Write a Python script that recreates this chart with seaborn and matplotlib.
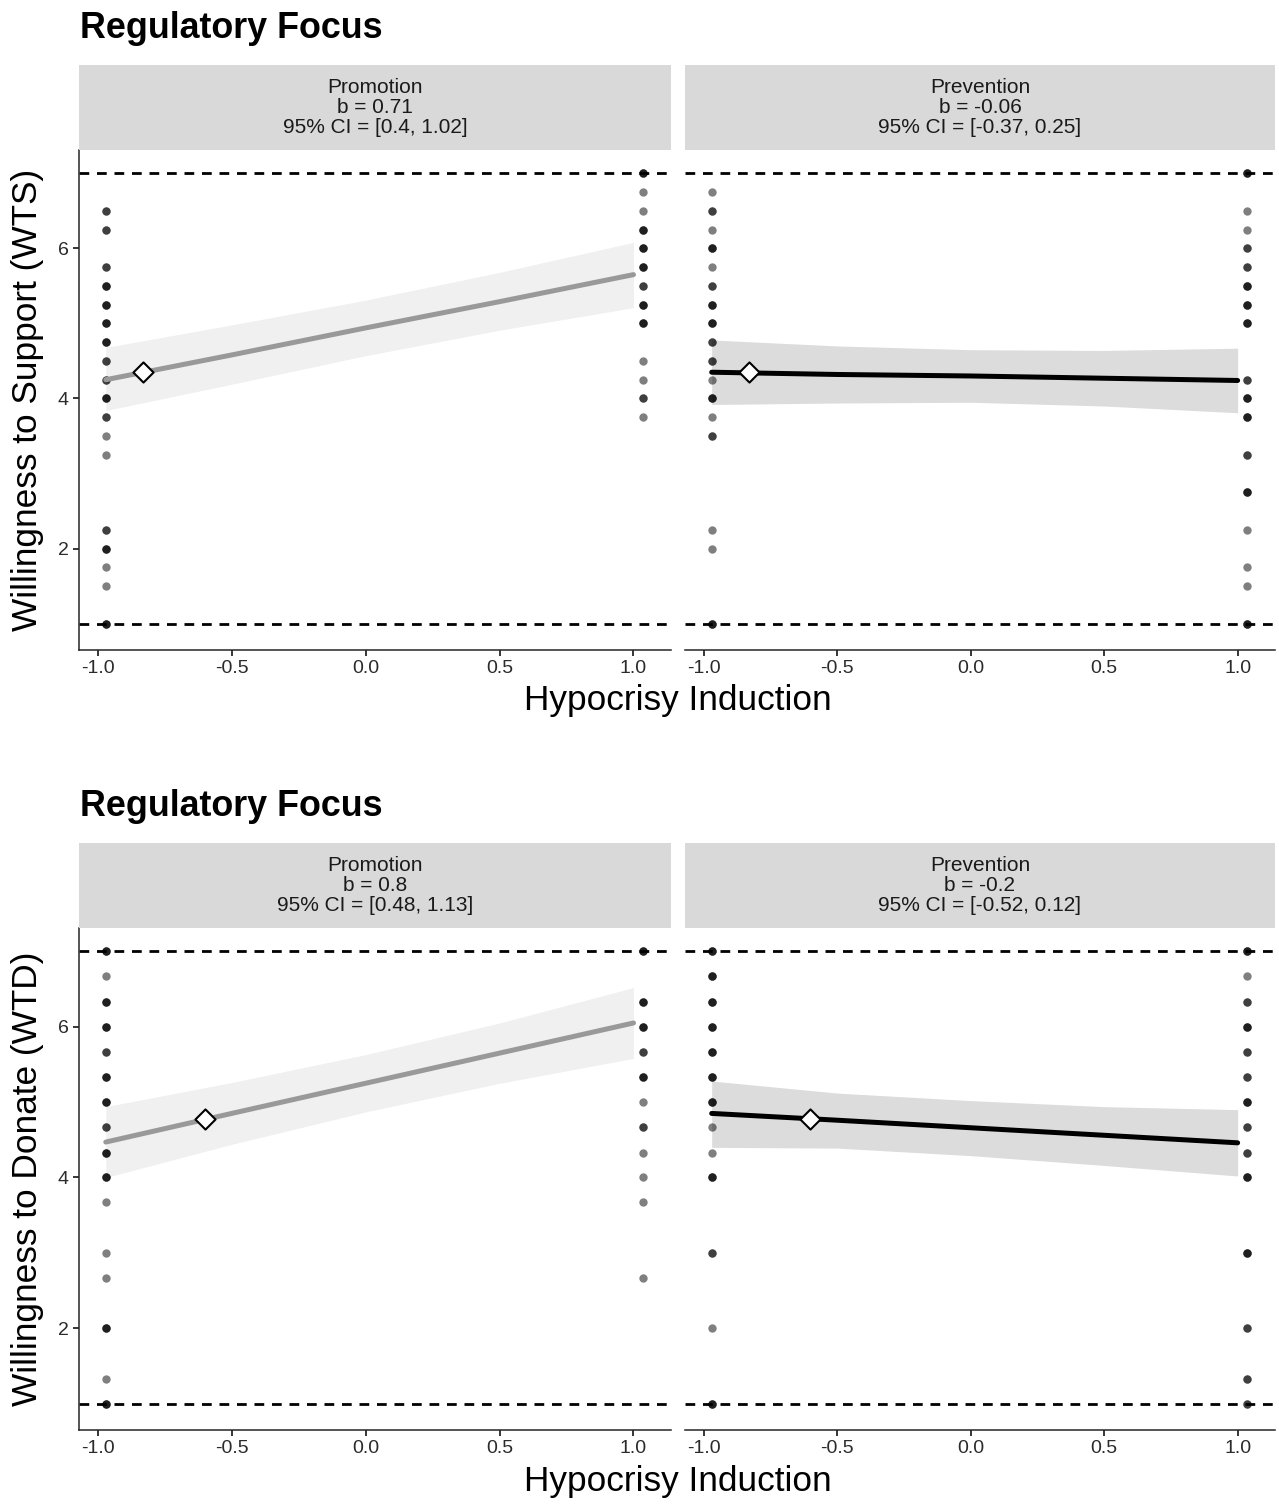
import numpy as np
import pandas as pd
import matplotlib.pyplot as plt
import seaborn as sns

# x positions of the two hypocrisy conditions (as plotted)
HYPO_LEVELS = [-0.97, 1.035]
FIT_X = [-0.97, -0.5, 0.0, 0.5, 1.0]
X_TICKS = [-1.0, -0.5, 0.0, 0.5, 1.0]
Y_TICKS = [2, 4, 6]
SCALE_BOUNDS = [1, 7]

# ---- WTS, Promotion ----
wts_prom_lo_y = [6.5, 6.25, 5.75, 5.5, 5.25, 5.0, 4.75, 4.5, 4.25, 4.0, 3.75, 3.5, 3.25, 2.25, 2.0, 1.75, 1.5, 1.0]
wts_prom_lo_n = [2, 2, 2, 3, 3, 3, 3, 2, 2, 3, 2, 1, 1, 2, 3, 1, 1, 3]
wts_prom_hi_y = [7.0, 6.75, 6.5, 6.25, 6.0, 5.75, 5.5, 5.25, 5.0, 4.5, 4.25, 4.0, 3.75]
wts_prom_hi_n = [3, 1, 1, 3, 3, 3, 2, 3, 3, 1, 1, 2, 1]
wts_prom_fit = [4.25, 4.58, 4.94, 5.29, 5.65]
wts_prom_upper = [4.68, 4.98, 5.31, 5.68, 6.08]
wts_prom_lower = [3.84, 4.19, 4.57, 4.91, 5.21]
wts_prom_mean = (-0.83, 4.35)

# ---- WTS, Prevention ----
wts_prev_lo_y = [6.75, 6.5, 6.25, 6.0, 5.75, 5.5, 5.25, 5.0, 4.75, 4.5, 4.25, 4.0, 3.75, 3.5, 2.25, 2.0, 1.0]
wts_prev_lo_n = [1, 2, 1, 3, 1, 2, 3, 3, 2, 2, 1, 3, 1, 2, 1, 1, 3]
wts_prev_hi_y = [7.0, 6.5, 6.25, 6.0, 5.75, 5.5, 5.25, 5.0, 4.25, 4.0, 3.75, 3.25, 2.75, 2.25, 1.75, 1.5, 1.0]
wts_prev_hi_n = [3, 1, 1, 2, 2, 3, 3, 3, 2, 3, 3, 2, 3, 1, 1, 1, 3]
wts_prev_fit = [4.35, 4.32, 4.30, 4.27, 4.24]
wts_prev_upper = [4.78, 4.70, 4.65, 4.64, 4.67]
wts_prev_lower = [3.92, 3.94, 3.95, 3.90, 3.81]
wts_prev_mean = (-0.83, 4.35)

# ---- WTD, Promotion ----
wtd_prom_lo_y = [7.0, 6.67, 6.33, 6.0, 5.67, 5.33, 5.0, 4.67, 4.33, 4.0, 3.67, 3.0, 2.67, 2.0, 1.33, 1.0]
wtd_prom_lo_n = [3, 1, 3, 3, 2, 3, 3, 2, 3, 3, 1, 1, 1, 3, 1, 3]
wtd_prom_hi_y = [7.0, 6.33, 6.0, 5.67, 5.33, 5.0, 4.67, 4.33, 4.0, 3.67, 2.67]
wtd_prom_hi_n = [3, 3, 3, 2, 3, 1, 2, 1, 1, 1, 1]
wtd_prom_fit = [4.47, 4.85, 5.25, 5.65, 6.05]
wtd_prom_upper = [4.94, 5.26, 5.63, 6.05, 6.52]
wtd_prom_lower = [4.00, 4.44, 4.87, 5.25, 5.58]
wtd_prom_mean = (-0.60, 4.78)

# ---- WTD, Prevention ----
wtd_prev_lo_y = [7.0, 6.67, 6.33, 6.0, 5.67, 5.33, 5.0, 4.67, 4.33, 4.0, 3.0, 2.0, 1.0]
wtd_prev_lo_n = [3, 3, 3, 3, 3, 3, 3, 1, 1, 3, 2, 1, 3]
wtd_prev_hi_y = [7.0, 6.67, 6.33, 6.0, 5.67, 5.33, 5.0, 4.67, 4.33, 4.0, 3.0, 2.0, 1.33, 1.0]
wtd_prev_hi_n = [3, 1, 2, 3, 2, 2, 3, 2, 2, 3, 3, 2, 2, 2]
wtd_prev_fit = [4.85, 4.76, 4.66, 4.56, 4.46]
wtd_prev_upper = [5.28, 5.12, 5.02, 4.94, 4.90]
wtd_prev_lower = [4.40, 4.39, 4.29, 4.16, 4.02]
wtd_prev_mean = (-0.60, 4.78)

strip_labels = {
    "wts_prom": "Promotion\nb = 0.71\n95% CI = [0.4, 1.02]",
    "wts_prev": "Prevention\nb = -0.06\n95% CI = [-0.37, 0.25]",
    "wtd_prom": "Promotion\nb = 0.8\n95% CI = [0.48, 1.13]",
    "wtd_prev": "Prevention\nb = -0.2\n95% CI = [-0.52, 0.12]",
}

sns.set_theme(style="ticks")
plt.rcParams['font.family'] = ['Liberation Sans', 'DejaVu Sans']

TXT = '#1a1a1a'
STRIP_BG = '#d9d9d9'


def points_frame(lo_y, lo_n, hi_y, hi_n):
    rows = []
    for y, n in zip(lo_y, lo_n):
        rows += [(HYPO_LEVELS[0], y)] * n
    for y, n in zip(hi_y, hi_n):
        rows += [(HYPO_LEVELS[1], y)] * n
    return pd.DataFrame(rows, columns=['hypocrisy', 'score'])


def draw_panel(ax, pts, fit, upper, lower, mean_pt, line_col, band_col, first):
    ax.fill_between(FIT_X, lower, upper, color=band_col, lw=0, zorder=1)
    for b in SCALE_BOUNDS:
        ax.axhline(b, color='black', lw=2.0, ls=(0, (3.5, 2.8)), zorder=2)
    sns.scatterplot(data=pts, x='hypocrisy', y='score', ax=ax, color='black',
                    alpha=0.5, s=36, linewidth=0, zorder=3, legend=False)
    sns.lineplot(x=FIT_X, y=fit, ax=ax, color=line_col, lw=3.6, zorder=4)
    sns.scatterplot(x=[mean_pt[0]], y=[mean_pt[1]], ax=ax, marker='D', s=105,
                    color='white', edgecolor='black', linewidth=1.5, zorder=5)
    ax.set_xlim(-1.07, 1.14)
    ax.set_ylim(0.65, 7.31)
    ax.set_xticks(X_TICKS)
    ax.set_xticklabels([f"{t:.1f}" for t in X_TICKS])
    ax.set_xlabel('')
    ax.set_ylabel('')
    ax.tick_params(axis='both', labelsize=14, colors='black', labelcolor='#2b2b2b',
                   length=4.5, width=1.1, pad=3)
    for s in ['top', 'right']:
        ax.spines[s].set_visible(False)
    ax.spines['bottom'].set_linewidth(1.1)
    if first:
        ax.set_yticks(Y_TICKS)
        ax.spines['left'].set_linewidth(1.1)
    else:
        ax.set_yticks([])
        ax.spines['left'].set_visible(False)


def draw_strip(fig, rect, text):
    sax = fig.add_axes(rect)
    sax.set_facecolor(STRIP_BG)
    sax.set_xticks([])
    sax.set_yticks([])
    for s in sax.spines.values():
        s.set_visible(False)
    sax.text(0.5, 0.5, text, ha='center', va='center', fontsize=15,
             color=TXT, linespacing=1.08, transform=sax.transAxes)


W, H = 1279, 1504
fig = plt.figure(figsize=(W / 100, H / 100), dpi=100)

cols = [(79, 671), (685, 1275)]
blocks = [
    dict(top=150, bottom=650, strip_top=65, title_y=29, xlab_y=700,
         ylab='Willingness to Support (WTS)',
         panels=[('wts_prom', points_frame(wts_prom_lo_y, wts_prom_lo_n, wts_prom_hi_y, wts_prom_hi_n),
                  wts_prom_fit, wts_prom_upper, wts_prom_lower, wts_prom_mean, '#999999', '#f0f0f0'),
                 ('wts_prev', points_frame(wts_prev_lo_y, wts_prev_lo_n, wts_prev_hi_y, wts_prev_hi_n),
                  wts_prev_fit, wts_prev_upper, wts_prev_lower, wts_prev_mean, 'black', '#dcdcdc')]),
    dict(top=928, bottom=1430, strip_top=843, title_y=807, xlab_y=1481,
         ylab='Willingness to Donate (WTD)',
         panels=[('wtd_prom', points_frame(wtd_prom_lo_y, wtd_prom_lo_n, wtd_prom_hi_y, wtd_prom_hi_n),
                  wtd_prom_fit, wtd_prom_upper, wtd_prom_lower, wtd_prom_mean, '#999999', '#f0f0f0'),
                 ('wtd_prev', points_frame(wtd_prev_lo_y, wtd_prev_lo_n, wtd_prev_hi_y, wtd_prev_hi_n),
                  wtd_prev_fit, wtd_prev_upper, wtd_prev_lower, wtd_prev_mean, 'black', '#dcdcdc')]),
]

for blk in blocks:
    for i, ((x0, x1), p) in enumerate(zip(cols, blk['panels'])):
        key, pts, fit, up, lo, mean_pt, lc, bc = p
        ax = fig.add_axes([x0 / W, 1 - blk['bottom'] / H, (x1 - x0) / W,
                           (blk['bottom'] - blk['top']) / H])
        draw_panel(ax, pts, fit, up, lo, mean_pt, lc, bc, i == 0)
        draw_strip(fig, [x0 / W, 1 - blk['top'] / H, (x1 - x0) / W,
                         (blk['top'] - blk['strip_top']) / H], strip_labels[key])
    fig.text(80 / W, 1 - blk['title_y'] / H, 'Regulatory Focus', fontsize=25.8,
             fontweight='bold', color='black', ha='left', va='center')
    fig.text(678 / W, 1 - blk['xlab_y'] / H, 'Hypocrisy Induction', fontsize=25.4,
             color='black', ha='center', va='center')
    fig.text(28 / W, 1 - (blk['top'] + blk['bottom']) / 2 / H, blk['ylab'], fontsize=25.4,
             color='black', ha='center', va='center', rotation=90)

fig.savefig('out.png', dpi=100)
